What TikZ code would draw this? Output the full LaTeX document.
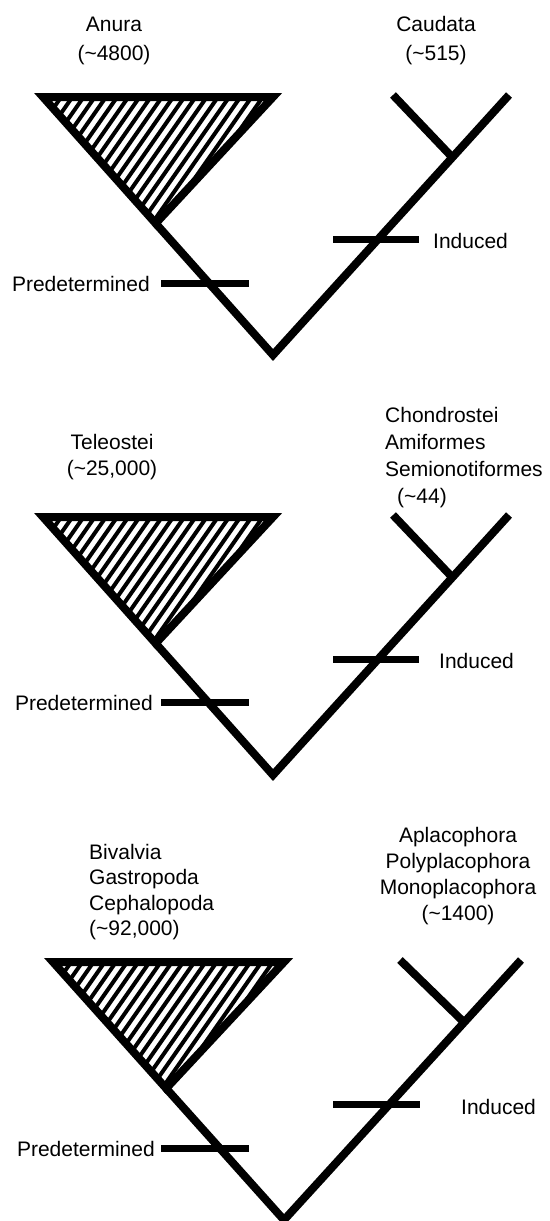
\documentclass[tikz,border=0pt]{standalone}
\usepackage{fontspec}
\setmainfont{Liberation Sans}
\usetikzlibrary{calc}
\begin{document}
\begin{tikzpicture}[x=1pt,y=-1pt,
    branch/.style={line width=8pt},
    bar/.style={line width=7pt},
    hatch/.style={line width=4pt},
    taxon/.style={inner sep=0pt,font=\fontsize{21}{26}\selectfont},
    mode/.style={inner sep=0pt,font=\fontsize{21}{24}\selectfont}]
    \useasboundingbox (0,0) rectangle (549,1221);

    % ---------- Anura / Caudata
    \coordinate (tl1) at (43,97);  \coordinate (tr1) at (273,97);
    \coordinate (root1) at (273,355);
    \coordinate (ap1) at ($(tl1)!0.49!(root1)$); %Spitze des Dreiecks
    \coordinate (rt1) at (509,95);  \coordinate (st1) at (393,95);
    \coordinate (jn1) at ($(root1)!0.76!(rt1)$);
    \begin{scope}
        \clip (tl1) -- (tr1) -- (ap1) -- cycle;
        \foreach \i in {0,...,22} \draw[hatch] ($(tl1)+(\i*11.2,-6)$) -- ++(-130,186);
    \end{scope}
    \draw[branch] (tl1) -- (tr1) -- (ap1) -- cycle;
    \draw[branch] (ap1) -- (root1) -- (rt1);
    \draw[branch] (st1) -- (jn1);
    \coordinate (pa1) at (161,283); \coordinate (pb1) at (249,283);
    \coordinate (ia1) at (333,239); \coordinate (ib1) at (419,239);
    \draw[bar] (pa1) -- (pb1);
    \draw[bar] (ia1) -- (ib1);
    \node[mode,anchor=east] (pred1) at (150,284) {Predetermined};
    \node[mode,anchor=west] (ind1) at (433,241) {Induced};
    \node[taxon,align=center,font=\fontsize{21}{29}\selectfont] (anura) at (114,41) {Anura\\(\textasciitilde4800)};
    \node[taxon,align=center,font=\fontsize{21}{29}\selectfont] (caudata) at (436,41) {Caudata\\(\textasciitilde515)};

    % ---------- Teleostei / Chondrostei ...
    \coordinate (tl2) at (43,517);  \coordinate (tr2) at (273,517);
    \coordinate (root2) at (273,775);
    \coordinate (ap2) at ($(tl2)!0.49!(root2)$);
    \coordinate (rt2) at (509,515);  \coordinate (st2) at (393,515);
    \coordinate (jn2) at ($(root2)!0.76!(rt2)$);
    \begin{scope}
        \clip (tl2) -- (tr2) -- (ap2) -- cycle;
        \foreach \i in {0,...,22} \draw[hatch] ($(tl2)+(\i*11.2,-6)$) -- ++(-130,186);
    \end{scope}
    \draw[branch] (tl2) -- (tr2) -- (ap2) -- cycle;
    \draw[branch] (ap2) -- (root2) -- (rt2);
    \draw[branch] (st2) -- (jn2);
    \coordinate (pa2) at (161,702); \coordinate (pb2) at (249,702);
    \coordinate (ia2) at (333,659); \coordinate (ib2) at (419,659);
    \draw[bar] (pa2) -- (pb2);
    \draw[bar] (ia2) -- (ib2);
    \node[mode,anchor=east] (pred2) at (153,703) {Predetermined};
    \node[mode,anchor=west] (ind2) at (439,661) {Induced};
    \node[taxon,align=center] (teleo) at (112,457) {Teleostei\\(\textasciitilde25,000)};
    \node[taxon,align=left,anchor=west,font=\fontsize{21}{27}\selectfont] (chondro) at (385,458)
        {Chondrostei\\Amiformes\\Semionotiformes\\\hspace{12pt}(\textasciitilde44)};

    % ---------- Bivalvia ... / Aplacophora ...
    \coordinate (tl3) at (53,962);  \coordinate (tr3) at (284,962);
    \coordinate (root3) at (284,1220);
    \coordinate (ap3) at ($(tl3)!0.49!(root3)$);
    \coordinate (rt3) at (521,960);  \coordinate (st3) at (400,960);
    \coordinate (jn3) at ($(root3)!0.76!(rt3)$);
    \begin{scope}
        \clip (tl3) -- (tr3) -- (ap3) -- cycle;
        \foreach \i in {0,...,22} \draw[hatch] ($(tl3)+(\i*11.2,-6)$) -- ++(-130,186);
    \end{scope}
    \draw[branch] (tl3) -- (tr3) -- (ap3) -- cycle;
    \draw[branch] (ap3) -- (root3) -- (rt3);
    \draw[branch] (st3) -- (jn3);
    \coordinate (pa3) at (161,1148); \coordinate (pb3) at (249,1148);
    \coordinate (ia3) at (333,1104); \coordinate (ib3) at (420,1104);
    \draw[bar] (pa3) -- (pb3);
    \draw[bar] (ia3) -- (ib3);
    \node[mode,anchor=east] (pred3) at (155,1149) {Predetermined};
    \node[mode,anchor=west] (ind3) at (461,1107) {Induced};
    \node[taxon,align=left,anchor=west,font=\fontsize{21}{25.5}\selectfont] (bival) at (89,892)
        {Bivalvia\\Gastropoda\\Cephalopoda\\(\textasciitilde92,000)};
    \node[taxon,align=center,font=\fontsize{21}{26}\selectfont] (aplaco) at (458,876)
        {Aplacophora\\Polyplacophora\\Monoplacophora\\(\textasciitilde1400)};
\end{tikzpicture}
\end{document}
